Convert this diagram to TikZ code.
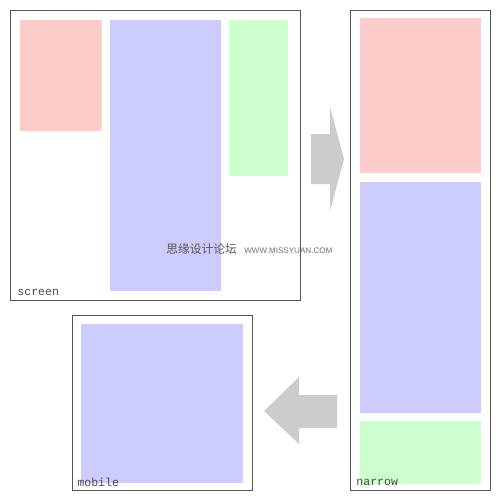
\documentclass[tikz,border=0pt]{standalone}
\usepackage{fontspec}
\setmonofont{Liberation Mono}
\setsansfont{Liberation Sans}
\newfontfamily\cjk{Noto Sans CJK SC}
\usetikzlibrary{fit}

\definecolor{frame}{HTML}{555555}
\definecolor{paneRed}{HTML}{FFCCCC}
\definecolor{paneBlue}{HTML}{CCCCFF}
\definecolor{paneGreen}{HTML}{CCFFCC}
\definecolor{shade}{HTML}{CCCCCC}

\begin{document}
\begin{tikzpicture}[x=0.02cm, y=-0.02cm, line join=miter,
    box/.style={draw=frame, line width=0.5pt, inner sep=0pt},
    pane/.style={inner sep=0pt, fill=#1},
    tag/.style={anchor=west, inner sep=0pt, text=black!70,
      font=\ttfamily\fontsize{6.6}{7}\selectfont},
    blockarrow/.style={fill=shade}] % pixel units

  \fill[white] (0,0) rectangle (500,500);
  \useasboundingbox (0,0) rectangle (500,500);

  % wide screen
  \node[box, fit={(10,10) (300,300)}] (screen) {};
  \node[pane=paneRed, fit={(20,20) (102,131)}] (s1) {};
  \node[pane=paneBlue, fit={(110,20) (221,291)}] (s2) {};
  \node[pane=paneGreen, fit={(229,20) (288,176)}] (s3) {};
  \node[tag] at (17,292) {screen};

  % narrow screen
  \node[box, fit={(350,10) (490,490)}] (narrow) {};
  \node[pane=paneRed, fit={(360,18) (481,173)}] (n1) {};
  \node[pane=paneBlue, fit={(360,182) (481,413)}] (n2) {};
  \node[pane=paneGreen, fit={(360,421) (481,484)}] (n3) {};
  \node[tag] at (356,482) {narrow};

  % mobile
  \node[box, fit={(72,315) (252,490)}] (mobile) {};
  \node[pane=paneBlue, fit={(81,324) (243,483)}] (m1) {};
  \node[tag] at (77,482) {mobile};

  % block arrows
  \fill[blockarrow] (311,134) -- (330,134) -- (330,107) -- (344,159)
    -- (330,211) -- (330,184) -- (311,184) -- cycle;
  \fill[blockarrow] (337,395) -- (299,395) -- (299,377) -- (264,411)
    -- (299,444) -- (299,428) -- (337,428) -- cycle;

  \node[anchor=west, inner sep=0pt, text=black!65,
    font=\cjk\fontsize{6.7}{7}\selectfont] (wm) at (166,249) {思缘设计论坛};
  \node[anchor=west, inner sep=0pt, text=black!55,
    font=\sffamily\fontsize{4.6}{5}\selectfont] (url) at (244,250.5) {WWW.MISSYUAN.COM};
\end{tikzpicture}
\end{document}
